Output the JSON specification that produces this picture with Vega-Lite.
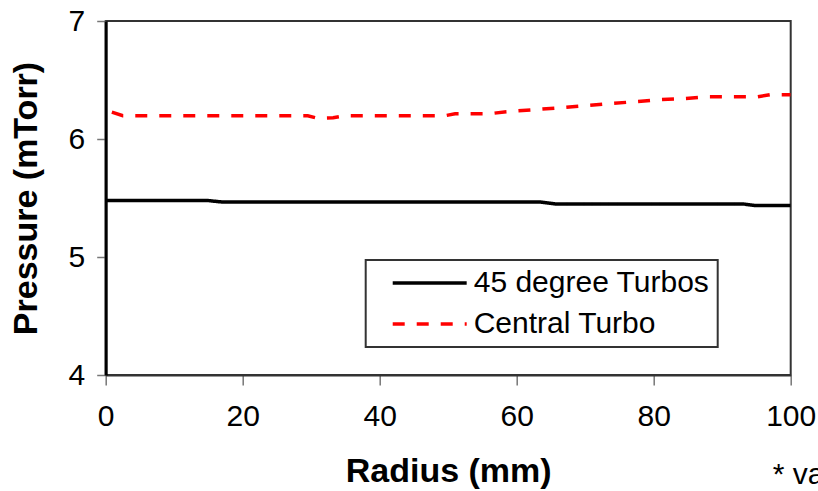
{
  "$schema": "https://vega.github.io/schema/vega-lite/v6.json",
  "width": 685,
  "height": 354,
  "autosize": {"type": "none"},
  "padding": {"left": 105.7, "top": 21, "right": 27.3, "bottom": 116},
  "background": "white",
  "config": {
    "font": "Liberation Sans",
    "view": {"stroke": "#333333", "strokeWidth": 2}
  },
  "title": {
    "text": "* va",
    "orient": "bottom",
    "anchor": "end",
    "frame": "group",
    "align": "left",
    "dx": -18,
    "offset": -28,
    "fontSize": 30,
    "fontWeight": "normal",
    "color": "black",
    "font": "Liberation Sans"
  },
  "data": {
    "values": [
      {"series": "45 degree Turbos", "radius": 0, "pressure": 5.478},
      {"series": "45 degree Turbos", "radius": 15, "pressure": 5.478},
      {"series": "45 degree Turbos", "radius": 17, "pressure": 5.466},
      {"series": "45 degree Turbos", "radius": 63.4, "pressure": 5.466},
      {"series": "45 degree Turbos", "radius": 65.6, "pressure": 5.45},
      {"series": "45 degree Turbos", "radius": 93, "pressure": 5.45},
      {"series": "45 degree Turbos", "radius": 94.8, "pressure": 5.436},
      {"series": "45 degree Turbos", "radius": 100, "pressure": 5.436},
      {"series": "Central Turbo", "radius": 0.9, "pressure": 6.228},
      {"series": "Central Turbo", "radius": 2.5, "pressure": 6.197},
      {"series": "Central Turbo", "radius": 29.5, "pressure": 6.197},
      {"series": "Central Turbo", "radius": 30.9, "pressure": 6.176},
      {"series": "Central Turbo", "radius": 33.2, "pressure": 6.18},
      {"series": "Central Turbo", "radius": 35, "pressure": 6.197},
      {"series": "Central Turbo", "radius": 49.5, "pressure": 6.197},
      {"series": "Central Turbo", "radius": 51, "pressure": 6.214},
      {"series": "Central Turbo", "radius": 56, "pressure": 6.214},
      {"series": "Central Turbo", "radius": 58.5, "pressure": 6.231},
      {"series": "Central Turbo", "radius": 62.5, "pressure": 6.248},
      {"series": "Central Turbo", "radius": 66.4, "pressure": 6.265},
      {"series": "Central Turbo", "radius": 70, "pressure": 6.282},
      {"series": "Central Turbo", "radius": 73.5, "pressure": 6.299},
      {"series": "Central Turbo", "radius": 77.2, "pressure": 6.316},
      {"series": "Central Turbo", "radius": 80.7, "pressure": 6.333},
      {"series": "Central Turbo", "radius": 84.2, "pressure": 6.342},
      {"series": "Central Turbo", "radius": 87.9, "pressure": 6.358},
      {"series": "Central Turbo", "radius": 95.2, "pressure": 6.358},
      {"series": "Central Turbo", "radius": 97, "pressure": 6.376},
      {"series": "Central Turbo", "radius": 100, "pressure": 6.376}
    ]
  },
  "mark": {"type": "line", "strokeWidth": 3.5, "clip": true},
  "encoding": {
    "x": {
      "field": "radius",
      "type": "quantitative",
      "scale": {"domain": [0, 100], "nice": false, "zero": false},
      "axis": {
        "values": [0, 20, 40, 60, 80, 100],
        "grid": false,
        "title": "Radius (mm)",
        "titleFontSize": 34,
        "titleFontWeight": "bold",
        "titleColor": "black",
        "titlePadding": 23,
        "labelFontSize": 30,
        "labelColor": "black",
        "labelPadding": 16,
        "tickSize": 10,
        "tickColor": "#777777",
        "tickWidth": 1.5,
        "domainColor": "#333333",
        "domainWidth": 2,
        "labelFlush": false
      }
    },
    "y": {
      "field": "pressure",
      "type": "quantitative",
      "scale": {"domain": [4, 7], "nice": false, "zero": false},
      "axis": {
        "values": [4, 5, 6, 7],
        "grid": false,
        "title": "Pressure (mTorr)",
        "titleFontSize": 34,
        "titleFontWeight": "bold",
        "titleColor": "black",
        "titlePadding": 25,
        "labelFontSize": 30,
        "labelColor": "black",
        "labelPadding": 12,
        "tickSize": 9,
        "tickColor": "#777777",
        "tickWidth": 1.5,
        "domainColor": "black",
        "domainWidth": 3,
        "labelFlush": false
      }
    },
    "color": {
      "field": "series",
      "type": "nominal",
      "scale": {"domain": ["45 degree Turbos", "Central Turbo"], "range": ["black", "#ff0000"]},
      "legend": {
        "title": null,
        "orient": "none",
        "legendX": 260,
        "legendY": 239,
        "direction": "vertical",
        "fillColor": "white",
        "strokeColor": "#333333",
        "padding": 8,
        "symbolType": "M-4,0H4",
        "symbolSize": 342,
        "symbolStrokeWidth": 3.5,
        "symbolOffset": 41,
        "labelFontSize": 30,
        "labelLimit": 500,
        "labelColor": "black",
        "labelOffset": 29,
        "rowPadding": 11,
        "encode": {"legend": {"update": {"strokeWidth": {"value": 2}}}}
      }
    },
    "strokeDash": {
      "field": "series",
      "type": "nominal",
      "scale": {"domain": ["45 degree Turbos", "Central Turbo"], "range": [[1, 0], [12, 12]]},
      "legend": null
    }
  }
}
